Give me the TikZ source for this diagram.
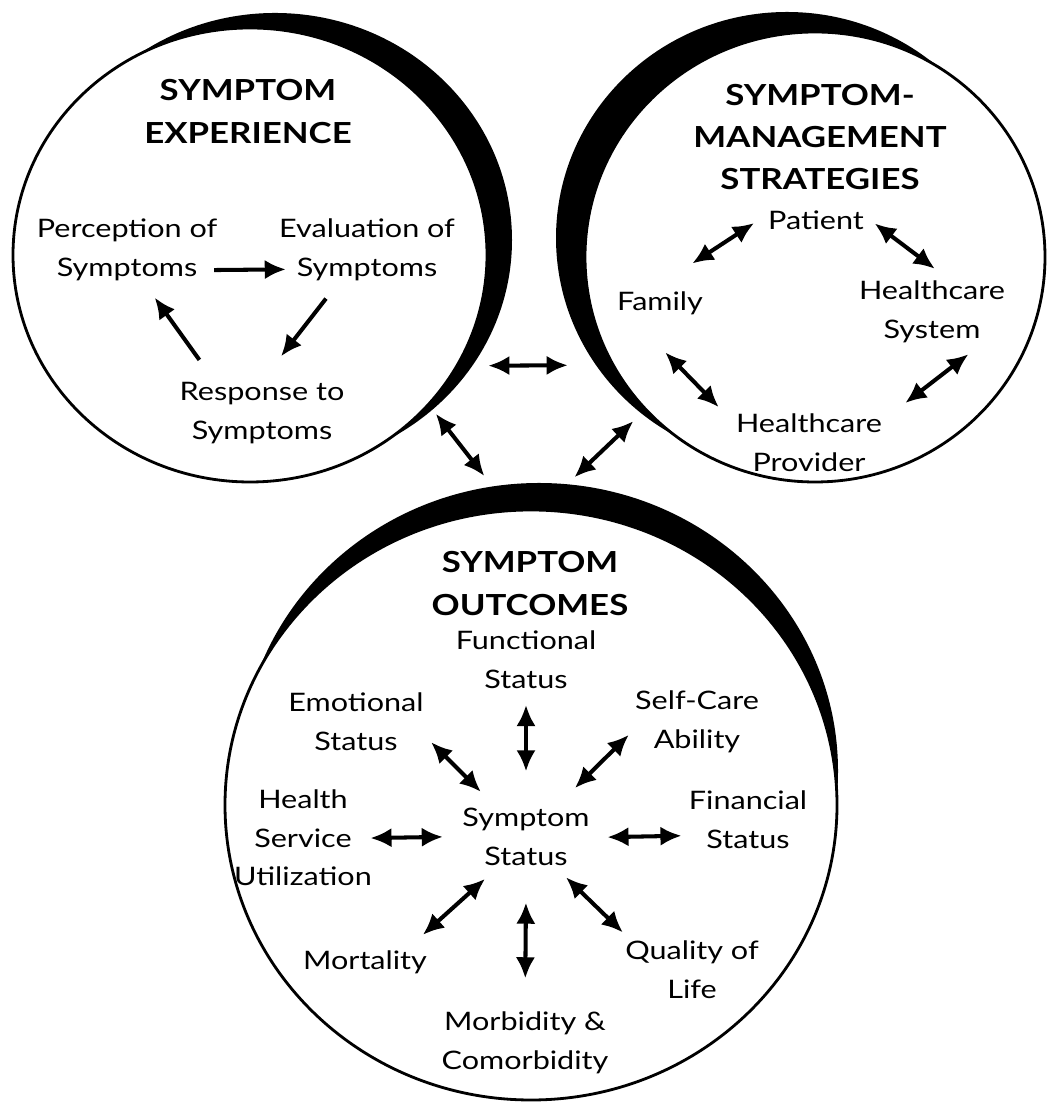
\documentclass[tikz,border=0pt]{standalone}
\usepackage{fontspec}
\setmainfont{Lato}[FakeStretch=1.2]
\usetikzlibrary{positioning}
\usetikzlibrary{arrows.meta}
\usetikzlibrary{shapes.geometric}
\tikzstyle{line} = [draw, line width=2.3pt, -{Latex[length=12pt,width=11pt]}]
\tikzstyle{biline} = [draw, line width=2.3pt,
{Latex[length=12pt,width=11pt]}-{Latex[length=12pt,width=11pt]}]

\begin{document}
\begin{tikzpicture}[
        ring/.style={draw, ellipse, fill=white, line width=1.6pt, inner sep=0pt},
        headtext/.style={align=center, font=\bfseries\fontsize{16.5}{24}\selectfont},
        lbl/.style={align=center, inner sep=2pt, font=\fontsize{14.5}{22}\selectfont}]
        \useasboundingbox (0,0) rectangle (20.96,22.06);
        %% Crescents
        \fill (5.50,17.26) ellipse (4.74 and 4.54);
        \fill (15.74,17.30) ellipse (4.62 and 4.52);
        \fill (10.78,6.64) ellipse (5.98 and 5.76);
        %% Circles
        \node [ring, minimum width=9.48cm, minimum height=9.08cm] at (5.00,16.96) (SE) {};
        \node [ring, minimum width=9.20cm, minimum height=9.00cm] at (16.30,16.92) (SMS) {};
        \node [ring, minimum width=12.24cm, minimum height=11.80cm] at (10.62,5.96) (SO) {};
        %% Symptom experience
        \node [headtext] at (4.96,19.83) (SEtitle) {SYMPTOM\\EXPERIENCE};
        \node [lbl] at (2.54,17.06) (PerSym) {Perception of\\Symptoms};
        \node [lbl] at (7.34,17.06) (EvalSym) {Evaluation of\\Symptoms};
        \node [lbl] at (5.24,13.80) (RespSym) {Response to\\Symptoms};
        %% Symptom-management strategies
        \node [headtext] at (16.40,19.32) (SMStitle) {SYMPTOM-\\MANAGEMENT\\STRATEGIES};
        \node [lbl] at (16.32,17.66) (Patient) {Patient};
        \node [lbl] at (13.20,16.00) (Family) {Family};
        \node [lbl] at (18.64,15.82) (HSystem) {Healthcare\\System};
        \node [lbl] at (16.18,13.20) (HProvider) {Healthcare\\Provider};
        %% Symptom outcomes
        \node [headtext] at (10.60,10.39) (SOtitle) {SYMPTOM\\OUTCOMES};
        \node [lbl, ellipse, minimum width=3.28cm, minimum height=2.4cm, inner sep=0pt]
            at (10.52,5.32) (SympStat) {Symptom\\Status};
        \node [lbl] at (10.52,8.86) (Functional) {Functional\\Status};
        \node [lbl] at (7.12,7.62) (Emotional) {Emotional\\Status};
        \node [lbl] at (13.94,7.62) (SelfCare) {Self-Care\\Ability};
        \node [lbl] at (6.06,5.30) (HealthServ) {Health\\Service\\Utilization};
        \node [lbl] at (14.96,5.66) (Financial) {Financial\\Status};
        \node [lbl] at (7.30,2.82) (Mortality) {Mortality};
        \node [lbl] at (13.84,2.66) (Quality) {Quality of\\Life};
        \node [lbl] at (10.50,1.20) (Morbidity) {Morbidity \&\\Comorbidity};
        %% Arcs
        \path [line, shorten <=-4pt, shorten >=-6pt] (PerSym.-12) to (EvalSym.192);
        \path [line, shorten <=13pt, shorten >=9pt] (RespSym.145) to (PerSym.-62);
        \path [line, shorten <=10pt, shorten >=16pt] (EvalSym.229) to (RespSym.87);
        \path [biline, shorten <=25pt, shorten >=7pt] (Family.106) to (Patient.176);
        \path [biline, shorten <=5pt, shorten >=8pt] (Patient.2) to (HSystem.68);
        \path [biline, shorten <=7pt, shorten >=14pt] (HSystem.-37) to (HProvider.18);
        \path [biline, shorten <=27pt, shorten >=11pt] (Family.209) to (HProvider.164);
        \path [biline, shorten <=17pt, shorten >=25pt] (SE.-28) to (SMS.208);
        \path [biline, shorten <=6pt, shorten >=24pt] (SE.-40) to (SO.94);
        \path [biline, shorten <=9pt, shorten >=26pt] (SMS.222) to (SO.88);
        \path [biline, shorten <=7pt, shorten >=3pt] (Functional.south) to (SympStat.north);
        \path [biline, shorten <=3pt, shorten >=-4pt] (Emotional.-13) to (SympStat.135);
        \path [biline, shorten <=2pt, shorten >=-1pt] (SelfCare.189) to (SympStat.45);
        \path [biline, shorten <=-3pt, shorten >=-4pt] (HealthServ.east) to (SympStat.west);
        \path [biline, shorten <=2pt, shorten >=-5pt] (Financial.194) to (SympStat.east);
        \path [biline, shorten <=10pt, shorten >=-7pt] (Mortality.19) to (SympStat.225);
        \path [biline, shorten <=4pt, shorten >=-8pt] (Quality.153) to (SympStat.315);
        \path [biline, shorten <=17pt, shorten >=3pt] (Morbidity.north) to (SympStat.south);
\end{tikzpicture}
\end{document}
